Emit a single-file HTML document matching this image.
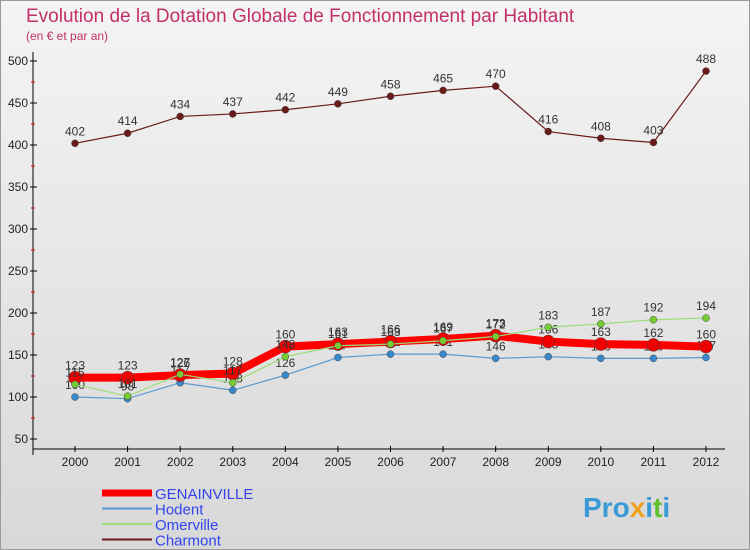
<!DOCTYPE html>
<html><head><meta charset="utf-8"><style>
body{margin:0;width:750px;height:550px;overflow:hidden;font-family:"Liberation Sans",sans-serif}
#wrap{position:absolute;left:0;top:0;width:748px;height:548px;border:1px solid #999;background:linear-gradient(#f4f4f4,#d8d8d8)}
</style></head><body>
<div id="wrap">
<svg id="chart" width="750" height="550" style="position:absolute;left:-1px;top:-1px">
<text x="26" y="22" font-size="19" fill="#c2306a">Evolution de la Dotation Globale de Fonctionnement par Habitant</text>
<text x="26" y="40" font-size="12" fill="#c2306a">(en € et par an)</text>
<g id="axes"></g><g id="series"></g><g id="legend"></g>
<text x="583" y="517" font-size="28" font-weight="bold" fill="#3a9ad8">Pro<tspan fill="#f0a020">x</tspan><tspan fill="#3a9ad8">i</tspan><tspan fill="#60c030">t</tspan><tspan fill="#3a9ad8">i</tspan></text>
</svg></div>
<script>
const years=[2000,2001,2002,2003,2004,2005,2006,2007,2008,2009,2010,2011,2012];
const yTicks=[50,100,150,200,250,300,350,400,450,500];
const genainville=[123,123,126,128,160,163,166,169,173,166,163,162,160];
const hodent=[100,98,117,108,126,147,151,151,146,148,146,146,147];
const omerville=[115,101,127,117,148,161,163,167,172,183,187,192,194];
const charmont=[402,414,434,437,442,449,458,465,470,416,408,403,488];
const NS='http://www.w3.org/2000/svg';
const xs=i=>75+i*(706-75)/(years.length-1);
const ys=v=>439-(v-50)*(439-61)/450;
function mk(t,a,p){const e=document.createElementNS(NS,t);for(const k in a)e.setAttribute(k,a[k]);p.appendChild(e);return e;}
const ax=document.getElementById('axes');
let yl=mk('line',{x1:33,y1:52,x2:33,y2:455,stroke:'#000'},ax);


let xl=mk('line',{x1:33,y1:449,x2:725,y2:449,stroke:'#000'},ax);


yTicks.forEach((v,i)=>{const y=ys(v);
mk('line',{x1:30,y1:y,x2:37,y2:y,stroke:'#000'},ax);
if(i<yTicks.length-1)mk('line',{x1:31,y1:ys(v+25),x2:35,y2:ys(v+25),stroke:'#e00'},ax);
const t=mk('text',{x:28,y:y+4,'font-size':12,'text-anchor':'end',fill:'#222'},ax);t.textContent=v;

});
years.forEach((yr,i)=>{const x=xs(i);mk('line',{x1:x,y1:446,x2:x,y2:452,stroke:'#000'},ax);
const t=mk('text',{x:x,y:466,'font-size':12,'text-anchor':'middle',fill:'#222'},ax);t.textContent=yr;

});
const S=document.getElementById('series');
function draw(name,data,color,w,r,dot){
const g=mk('g',{},S);


mk('polyline',{points:data.map((v,i)=>xs(i)+','+ys(v)).join(' '),fill:'none',stroke:color,'stroke-width':w},g);
data.forEach((v,i)=>{const c=mk('circle',{cx:xs(i),cy:ys(v),r:r,fill:dot,stroke:'#444','stroke-width':0.5},g);


const t=mk('text',{x:xs(i),y:ys(v)-8,'font-size':12,'text-anchor':'middle',fill:'#333'},g);t.textContent=v;

});}
draw('charmont',charmont,'#6b1a1a',1.2,3.5,'#6b1a1a');
draw('hodent',hodent,'#5a9ad0',1.2,3.5,'#3a88cc');
draw('genainville',genainville,'#ff0000',8,6.5,'#ee0000');
draw('omerville',omerville,'#99dd77',1.2,3.5,'#77cc33');
const L=document.getElementById('legend');
const items=[['GENAINVILLE','#ff0000',7],['Hodent','#5a9ad0',2],['Omerville','#99dd77',2],['Charmont','#6b1a1a',2]];
items.forEach((it,i)=>{const y=493+i*15.5;
const g=mk('g',{},L);


mk('line',{x1:102,y1:y,x2:152,y2:y,stroke:it[1],'stroke-width':it[2]},g);
const t=mk('text',{x:155,y:y+6,'font-size':15,fill:'#3344ee'},g);t.textContent=it[0];});
</script></body></html>
